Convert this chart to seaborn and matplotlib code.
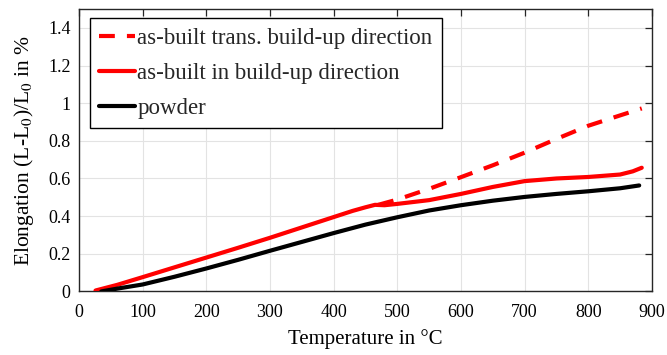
import numpy as np
import pandas as pd
import matplotlib
matplotlib.use("Agg")
import matplotlib.pyplot as plt
import seaborn as sns

# Dilatometer curves: temperature in °C, elongation in %
temp_trans = [470, 500, 550, 600, 650, 700, 750, 800, 850, 884]
elong_trans = [0.460, 0.488, 0.545, 0.607, 0.670, 0.737, 0.810, 0.880, 0.935, 0.972]

temp_build = [26, 60, 100, 150, 200, 250, 300, 350, 400, 430, 450, 465, 480,
              500, 550, 600, 650, 700, 750, 800, 850, 870, 884]
elong_build = [0.005, 0.035, 0.076, 0.128, 0.180, 0.232, 0.285, 0.340, 0.395, 0.428,
               0.447, 0.460, 0.458, 0.465, 0.485, 0.518, 0.555, 0.586, 0.600, 0.608,
               0.621, 0.638, 0.657]

temp_powder = [35, 60, 100, 150, 200, 250, 300, 350, 400, 450, 500, 550, 600,
               650, 700, 750, 800, 850, 880]
elong_powder = [0.0, 0.015, 0.037, 0.078, 0.122, 0.168, 0.216, 0.263, 0.310, 0.355,
                0.394, 0.430, 0.458, 0.482, 0.502, 0.518, 0.532, 0.548, 0.563]

labels = ["as-built trans. build-up direction",
          "as-built in build-up direction",
          "powder"]

df = pd.concat([
    pd.DataFrame({"T": temp_trans, "dL": elong_trans, "sample": labels[0]}),
    pd.DataFrame({"T": temp_build, "dL": elong_build, "sample": labels[1]}),
    pd.DataFrame({"T": temp_powder, "dL": elong_powder, "sample": labels[2]}),
], ignore_index=True)

sns.set_theme(style="white")
plt.rcParams["font.family"] = ["Liberation Serif", "DejaVu Serif"]
plt.rcParams["mathtext.fontset"] = "stix"

fig = plt.figure(figsize=(6.67, 3.55), dpi=100)
ax = fig.add_axes([0.1184, 0.179, 0.859, 0.7956])

palette = {labels[0]: "#ff0000", labels[1]: "#ff0000", labels[2]: "#000000"}
dashes = {labels[0]: (3.8, 2.9), labels[1]: "", labels[2]: ""}

sns.lineplot(data=df, x="T", y="dL", hue="sample", style="sample",
             hue_order=labels, style_order=labels, palette=palette,
             dashes=dashes, linewidth=3.0, sort=False, estimator=None,
             ax=ax, zorder=3)

ax.set_xlim(0, 900)
ax.set_ylim(0, 1.5)
ax.set_xticks(np.arange(0, 901, 100))
ax.set_yticks(np.arange(0, 1.41, 0.2))
ax.set_yticklabels(["0", "0.2", "0.4", "0.6", "0.8", "1", "1.2", "1.4"])

ax.grid(True, color="#e3e3e3", linewidth=0.8)
ax.set_axisbelow(True)
for s in ax.spines.values():
    s.set_color("#262626")
    s.set_linewidth(1.0)
ax.tick_params(direction="in", length=5, width=0.9, color="#262626",
               top=True, right=True, labelsize=13, labelcolor="black")
ax.tick_params(axis="x", pad=9)
ax.tick_params(axis="y", pad=6)

ax.set_xlabel("Temperature in °C", fontsize=15, color="black", labelpad=6)
ax.set_ylabel("Elongation (L-L$_0$)/L$_0$ in %", fontsize=15.5, color="black", labelpad=9)

leg = ax.legend(loc="upper left", bbox_to_anchor=(0.019, 0.967), fontsize=16.5,
                frameon=True, fancybox=False, edgecolor="black", framealpha=1,
                handlelength=1.55, handletextpad=0.1, borderpad=0.42,
                labelspacing=0.6, borderaxespad=0)
leg.get_frame().set_linewidth(1.0)
for line in leg.get_lines():
    line.set_linewidth(3.0)

fig.savefig("out.png", dpi=100)
